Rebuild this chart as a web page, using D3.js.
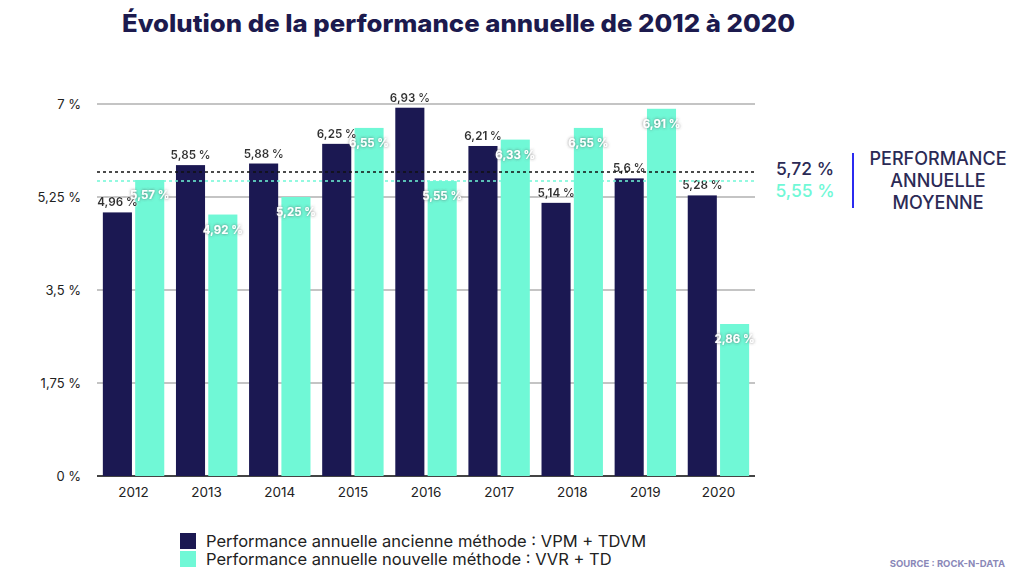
<!DOCTYPE html>
<html><head><meta charset="utf-8">
<script src="https://cdn.jsdelivr.net/npm/d3@7"></script>
<style>body{margin:0;background:#fff}svg{display:block}text{font-family:Inter,"Open Sans",sans-serif}</style>
</head><body><svg id="c" width="1024" height="588"></svg>
<script>
const years = ["2012","2013","2014","2015","2016","2017","2018","2019","2020"];
const oldMethod = [4.96,5.85,5.88,6.25,6.93,6.21,5.14,5.6,5.28];
const newMethod = [5.57,4.92,5.25,6.55,5.55,6.33,6.55,6.91,2.86];
const yTicks = [0,1.75,3.5,5.25,7];
const avgOld = 5.72, avgNew = 5.55;
const seriesNames = ["Performance annuelle ancienne méthode : VPM + TDVM","Performance annuelle nouvelle méthode : VVR + TD"];
const colors = ["#1b1852","#70f8d6"];

const svg = d3.select("#c");
const defs = svg.append("defs");
const f = defs.append("filter").attr("id","sh").attr("x","-20%").attr("y","-50%").attr("width","140%").attr("height","200%");
f.append("feDropShadow").attr("dx",0).attr("dy",0).attr("stdDeviation",1.4).attr("flood-color","#555").attr("flood-opacity",0.8);
const f2 = defs.append("filter").attr("id","sh2").attr("x","-20%").attr("y","-50%").attr("width","140%").attr("height","200%");
f2.append("feDropShadow").attr("dx",0).attr("dy",0).attr("stdDeviation",1.2).attr("flood-color","#fff").attr("flood-opacity",1);

const fmt = v => String(v).replace(".",",");
const y = d3.scaleLinear().domain([0,7]).range([476,104]);
const x = d3.scaleBand().domain(years).range([97,755]).paddingInner(0.16).paddingOuter(0.08);
const xs = d3.scaleBand().domain([0,1]).range([0,x.bandwidth()]).paddingInner(0.1);

svg.append("text").attr("x",122).attr("y",32).attr("font-size",24).attr("font-weight",800)
  .attr("fill","#1c1a4e").attr("textLength",673).attr("lengthAdjust","spacingAndGlyphs")
  .text("Évolution de la performance annuelle de 2012 à 2020");

// grid
const yAxis = d3.axisLeft(y).tickValues(yTicks).tickSize(0).tickFormat(d => fmt(d)+" %");
const ga = svg.append("g").attr("transform","translate(81,0)").call(yAxis);
ga.select(".domain").remove();
ga.selectAll("text").attr("font-size",13).attr("fill","#222").attr("dx",0).attr("x",0);
svg.append("g").selectAll("line").data(yTicks).join("line")
  .attr("x1",97).attr("x2",755).attr("y1",d=>y(d)).attr("y2",d=>y(d))
  .attr("stroke",d=>d===0?"#444":"#b0b0b0").attr("stroke-width",d=>d===0?2:1.5);

const data = years.map((yr,i)=>({yr, vals:[oldMethod[i],newMethod[i]]}));
const g = svg.append("g").selectAll("g").data(data).join("g").attr("transform",d=>`translate(${x(d.yr)},0)`);
g.selectAll("rect").data(d=>d.vals).join("rect")
  .attr("x",(d,i)=>xs(i)).attr("width",xs.bandwidth()).attr("y",d=>y(d)).attr("height",d=>y(0)-y(d))
  .attr("fill",(d,i)=>colors[i]);

// averages
svg.append("line").attr("x1",97).attr("x2",755).attr("y1",y(avgOld)).attr("y2",y(avgOld))
  .attr("stroke","#111").attr("stroke-width",1.6).attr("stroke-dasharray","3,3");
svg.append("line").attr("x1",97).attr("x2",755).attr("y1",y(avgNew)).attr("y2",y(avgNew))
  .attr("stroke","#70f8d6").attr("stroke-width",1.6).attr("stroke-dasharray","3,3");

// value labels
g.append("text").attr("x",xs(0)+xs.bandwidth()/2).attr("y",d=>y(d.vals[0])-6)
  .attr("text-anchor","middle").attr("font-size",11.5).attr("font-weight",700).attr("fill","#333")
  .attr("filter","url(#sh2)").text(d=>fmt(d.vals[0])+" %");
g.append("text").attr("x",xs(1)+xs.bandwidth()/2).attr("y",d=>y(d.vals[1])+19)
  .attr("text-anchor","middle").attr("font-size",11.5).attr("font-weight",700).attr("fill","#fff")
  .attr("filter","url(#sh)").text(d=>fmt(d.vals[1])+" %");

// x axis
const xAxis = d3.axisBottom(x).tickSize(0);
const gx = svg.append("g").attr("transform","translate(0,484)").call(xAxis);
gx.select(".domain").remove();
gx.selectAll("text").attr("font-size",13.5).attr("fill","#222").attr("dy","0.71em");

// right annotation
svg.append("text").attr("x",805).attr("y",175).attr("text-anchor","middle").attr("font-size",17.5).attr("font-weight",500).attr("fill","#2b2a55").text(fmt(avgOld)+" %");
svg.append("text").attr("x",805).attr("y",197).attr("text-anchor","middle").attr("font-size",17.5).attr("font-weight",500).attr("fill","#70f8d6").text(fmt(avgNew)+" %");
svg.append("line").attr("x1",853).attr("x2",853).attr("y1",153).attr("y2",208).attr("stroke","#2b2bf0").attr("stroke-width",2);
["PERFORMANCE","ANNUELLE","MOYENNE"].forEach((t,i)=>{
  svg.append("text").attr("x",938).attr("y",165+i*22).attr("text-anchor","middle").attr("font-size",18).attr("font-weight",500).attr("fill","#2b2a55").text(t);
});

// legend
const lg = svg.append("g").selectAll("g").data(seriesNames).join("g").attr("transform",(d,i)=>`translate(180,${533+i*18})`);
lg.append("rect").attr("width",16).attr("height",16).attr("fill",(d,i)=>colors[i]);
lg.append("text").attr("x",26).attr("y",13.5).attr("font-size",16.5).attr("fill","#222").text(d=>d);

svg.append("text").attr("x",1005).attr("y",567).attr("text-anchor","end").attr("font-size",9.5).attr("font-weight",700).attr("fill","#8a88b8").text("SOURCE : ROCK-N-DATA");
</script></body></html>
